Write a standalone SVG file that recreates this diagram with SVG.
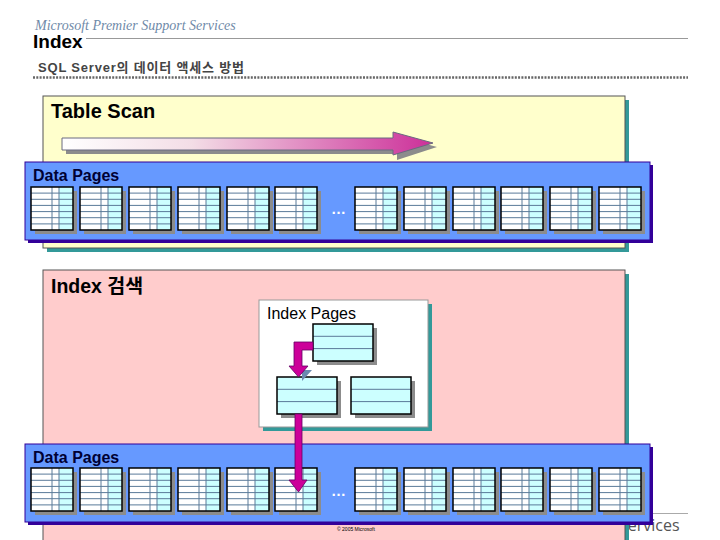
<svg xmlns="http://www.w3.org/2000/svg" xmlns:xlink="http://www.w3.org/1999/xlink" width="720" height="540" viewBox="0 0 720 540">
<style>
.sans{font-family:"Liberation Sans",Arial,"Noto Sans CJK KR",sans-serif}
.grid{stroke:#5a7a99;stroke-width:1}
.shadow{fill:#8c8c8c}
.pgborder{fill:none;stroke:#000;stroke-width:1.5}
.dp{font-size:16px;fill:#000033;font-weight:bold}
.dots{font-size:15px;fill:#ffffff;font-weight:bold}
</style>
<defs>
<linearGradient id="scanGrad" x1="0" y1="0" x2="1" y2="0">
<stop offset="0" stop-color="#ffffff"/>
<stop offset="0.35" stop-color="#f3dde6"/>
<stop offset="1" stop-color="#cc2f99"/>
</linearGradient>
<g id="page">
<rect class="shadow" x="4" y="4" width="42" height="43"/>
<rect x="0" y="0" width="42" height="43" fill="#ffffff"/>
<rect x="28" y="0" width="14" height="43" fill="#ccffff"/>
<path class="grid" d="M21 0V43M28 0V43M0 6.1H42M0 12.3H42M0 18.4H42M0 24.6H42M0 30.7H42M0 36.9H42"/>
<rect class="pgborder" x="0" y="0" width="42" height="43"/>
</g>
<g id="ipage">
<rect class="shadow" x="4" y="4" width="60" height="37"/>
<rect x="0" y="0" width="60" height="37" fill="#ccffff"/>
<path class="grid" d="M0 12.3H60M0 24.6H60"/>
<rect class="pgborder" x="0" y="0" width="60" height="37"/>
</g>
</defs>
<rect width="720" height="540" fill="#ffffff"/>

<g id="header">
<text x="35" y="30" font-family="'Liberation Serif','Times New Roman',serif" font-style="italic" font-size="14" fill="#6f8aa8">Microsoft Premier Support Services</text>
<line x1="86" y1="38.5" x2="688" y2="38.5" stroke="#999" stroke-width="1"/>
<text class="sans" x="33" y="48" font-size="19" font-weight="bold" fill="#000">Index</text>
<text class="sans" x="38" y="72" font-size="13" font-weight="bold" fill="#444" letter-spacing="0.8">SQL Server의 데이터 액세스 방법</text>
<line x1="33" y1="77.5" x2="688" y2="77.5" stroke="#666" stroke-width="2.5" stroke-dasharray="2,1.3"/>
</g>

<g id="footer-brand">
<line x1="625" y1="513.5" x2="688" y2="513.5" stroke="#aaa" stroke-width="1"/>
<text x="619" y="531" font-family="'Open Sans','Noto Sans',sans-serif" font-size="16" fill="#555">Services</text>
</g>

<g id="table-scan-panel">
<rect x="47" y="100" width="582" height="152" fill="#339999"/>
<rect x="43" y="96" width="582" height="152" fill="#ffffcc" stroke="#555" stroke-width="1"/>
<text class="sans" x="51" y="118" font-size="20" font-weight="bold" fill="#000">Table Scan</text>
</g>

<g id="scan-arrow">
<path d="M66 142H397V136L437 147L397 160V154H66Z" fill="#8c8c8c"/>
<path d="M62 138H393V132L433 143L393 155V150H62Z" fill="url(#scanGrad)" stroke="#6a6a80" stroke-width="1"/>
</g>

<g id="index-panel">
<rect x="47" y="274" width="582" height="280" fill="#339999"/>
<rect x="43" y="270" width="582" height="280" fill="#ffcccc" stroke="#555" stroke-width="1"/>
<text class="sans" x="51" y="293" font-size="19.5" font-weight="bold" fill="#000">Index 검색</text>
</g>

<g id="data-pages-1">
<rect x="28" y="165" width="625" height="78" fill="#330099"/>
<rect x="25" y="162" width="625" height="78" fill="#6699ff" stroke="#330099" stroke-width="1"/>
<text class="sans dp" x="33" y="181">Data Pages</text>
<use xlink:href="#page" x="31" y="187"/>
<use xlink:href="#page" x="80" y="187"/>
<use xlink:href="#page" x="129" y="187"/>
<use xlink:href="#page" x="178" y="187"/>
<use xlink:href="#page" x="227" y="187"/>
<use xlink:href="#page" x="275" y="187"/>
<text class="sans dots" x="331" y="214">…</text>
<use xlink:href="#page" x="355" y="187"/>
<use xlink:href="#page" x="404" y="187"/>
<use xlink:href="#page" x="453" y="187"/>
<use xlink:href="#page" x="501" y="187"/>
<use xlink:href="#page" x="550" y="187"/>
<use xlink:href="#page" x="599" y="187"/>
</g>

<g id="index-pages">
<rect x="263" y="304" width="169" height="127" fill="#339999"/>
<rect x="259" y="300" width="169" height="127" fill="#ffffff" stroke="#999" stroke-width="1"/>
<text class="sans" x="267" y="319" font-size="16" fill="#000">Index Pages</text>
<use xlink:href="#ipage" x="313" y="324"/>
<use xlink:href="#ipage" x="277" y="377"/>
<use xlink:href="#ipage" x="351" y="377"/>
</g>

<g id="data-pages-2">
<rect x="28" y="447" width="625" height="78" fill="#330099"/>
<rect x="25" y="444" width="625" height="78" fill="#6699ff" stroke="#330099" stroke-width="1"/>
<text class="sans dp" x="33" y="463">Data Pages</text>
<use xlink:href="#page" x="31" y="468"/>
<use xlink:href="#page" x="80" y="468"/>
<use xlink:href="#page" x="129" y="468"/>
<use xlink:href="#page" x="178" y="468"/>
<use xlink:href="#page" x="227" y="468"/>
<use xlink:href="#page" x="275" y="468"/>
<text class="sans dots" x="331" y="496">…</text>
<use xlink:href="#page" x="355" y="468"/>
<use xlink:href="#page" x="404" y="468"/>
<use xlink:href="#page" x="453" y="468"/>
<use xlink:href="#page" x="501" y="468"/>
<use xlink:href="#page" x="550" y="468"/>
<use xlink:href="#page" x="599" y="468"/>
</g>

<g id="connectors">
<path d="M302 350V370H312L302 381Z" fill="#6a8ab0"/>
<path d="M313 342H294V366H289L298.5 377L308 366H302V350H313Z" fill="#cc0099" stroke="#660066" stroke-width="0.8"/>
<path d="M302 414V480H307L298.5 492L289 480H295V414Z" fill="#cc0099" stroke="#660066" stroke-width="0.8"/>
</g>

<text class="sans" x="337" y="531" font-size="5" fill="#000">© 2005 Microsoft</text>
</svg>
